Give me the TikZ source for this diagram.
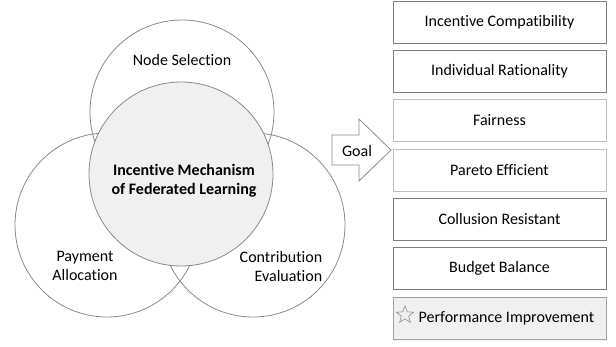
\documentclass[tikz,border=0pt]{standalone}
\usepackage{fontspec}
\setmainfont{Carlito}[Ligatures={NoCommon,NoContextual}]
\usetikzlibrary{shapes}
\usetikzlibrary{positioning}
\usetikzlibrary{calc}
\definecolor{cline}{HTML}{8A8A8A}
\definecolor{cdark}{HTML}{7F7F7F}
\definecolor{clight}{HTML}{BFBFBF}
\definecolor{cfill}{HTML}{F0F0F0}
\tikzstyle{ring}    = [circle, draw=cline, line width=0.8pt, minimum size=184pt, inner sep=0pt]
\tikzstyle{core}    = [ring, fill=cfill]
\tikzstyle{goalbox} = [draw=cdark, line width=0.8pt, minimum width=213pt, minimum height=42pt, inner sep=0pt]
\tikzstyle{softbox} = [goalbox, draw=clight]
\tikzstyle{gainbox} = [goalbox, draw=cline!80, fill=cfill]
\tikzstyle{label}   = [align=center, font=\fontsize{16}{19}\selectfont]

\begin{document}
\begin{tikzpicture}[x=1pt, y=-1pt]
  \useasboundingbox (0,0) rectangle (616,346);
  % three aspects round the mechanism
  \node[ring] (select)  at (182,112) {};
  \node[ring] (payment) at (107,225) {};
  \node[ring] (contrib) at (253,225) {};
  \node[core] (core)    at (181,174) {};
  \node[label] (selecttxt)  at (182,60)  {Node Selection};
  \node[label] (paymenttxt) at (85,266)  {Payment\\Allocation};
  \node[label, align=right] (contribtxt) at (281,266) {Contribution\\Evaluation};
  \node[label, font=\fontsize{16}{19}\selectfont\bfseries] (coretxt) at (184,181) {Incentive Mechanism\\of Federated Learning};
  % arrow to the goals
  \draw[draw=cline, line width=0.8pt, fill=white]
    (332,135) -- (359,135) -- (359,119) -- (391,150) -- (359,181) -- (359,165) -- (332,165) -- cycle;
  \node[label] (goal) at (357,151) {Goal};
  % goals
  \node[goalbox, label] (compat)  at (499.5,22)  {Incentive Compatibility};
  \node[goalbox, label] (ration)  at (499.5,71)  {Individual Rationality};
  \node[softbox, label] (fair)    at (499.5,120.5) {Fairness};
  \node[softbox, label] (pareto)  at (499.5,170.5) {Pareto Efficient};
  \node[goalbox, label] (collude) at (499.5,219) {Collusion Resistant};
  \node[goalbox, label] (budget)  at (499.5,268) {Budget Balance};
  \fill[blue!6] (393.5,299) rectangle (606.5,340.5);
  \node[gainbox, label] (perf)    at (499.5,318) {\hspace{14pt}Performance Improvement};
  \node[star, star points=5, star point ratio=2.3, draw=cline, line width=0.6pt,
        minimum size=18pt, inner sep=0pt] (star) at (405,315) {};
\end{tikzpicture}
\end{document}
